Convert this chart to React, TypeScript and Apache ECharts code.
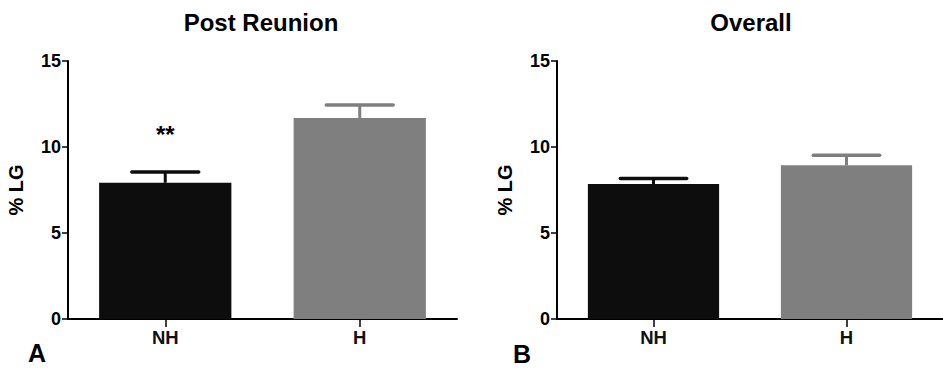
import React, { useEffect, useRef } from "react";
import * as echarts from "echarts";

const categories = ["NH", "H"];
const panelTitles = ["Post Reunion", "Overall"];
const panelLetters = ["A", "B"];
const yAxisName = "% LG";
const yTicks = { min: 0, max: 15, interval: 5 };

// Post Reunion panel
const postMeans = [7.92, 11.69];
const postUpper = [8.55, 12.44];
const postSig = ["**", ""];

// Overall panel
const overallMeans = [7.85, 8.94];
const overallUpper = [8.17, 9.52];
const overallSig = ["", ""];

const barColors = ["#0d0d0d", "#7f7f7f"];
const FONT = 'Arial, "Liberation Sans", Helvetica, sans-serif';

export default function App() {
  const ref = useRef<HTMLDivElement>(null);

  useEffect(() => {
    if (!ref.current) return;
    const chart = echarts.init(ref.current, null, { renderer: "svg" });

    const grids = [
      { left: 68, top: 61, width: 389, height: 258 },
      { left: 557, top: 61, width: 389, height: 258 },
    ];

    const xAxes = grids.map((_, i) => ({
      type: "category",
      gridIndex: i,
      data: categories,
      boundaryGap: true,
      axisLine: { show: true, lineStyle: { color: "#000", width: 2 } },
      axisTick: { show: true, alignWithLabel: true, length: 8, lineStyle: { color: "#000", width: 1.5 } },
      axisLabel: { color: "#111", fontSize: 18.5, fontWeight: "bold", fontFamily: FONT, margin: 9 },
      splitLine: { show: false },
    }));

    const yAxes = grids.map((_, i) => ({
      type: "value",
      gridIndex: i,
      min: yTicks.min,
      max: yTicks.max,
      interval: yTicks.interval,
      name: yAxisName,
      nameLocation: "middle",
      nameRotate: 90,
      nameGap: 42,
      nameTextStyle: { color: "#000", fontSize: 20, fontWeight: "bold", fontFamily: FONT },
      axisLine: { show: true, lineStyle: { color: "#000", width: 2 } },
      axisTick: { show: true, length: 6, lineStyle: { color: "#000", width: 1.5 } },
      axisLabel: { color: "#000", fontSize: 18, fontWeight: "bold", fontFamily: FONT, margin: 7 },
      splitLine: { show: false },
    }));

    const makeBars = (means: number[], i: number) => ({
      type: "bar",
      xAxisIndex: i,
      yAxisIndex: i,
      barWidth: "68%",
      z: 3,
      data: means.map((v, k) => ({ value: v, itemStyle: { color: barColors[k] } })),
    });

    const makeErr = (means: number[], upper: number[], sig: string[], i: number) => ({
      type: "custom",
      xAxisIndex: i,
      yAxisIndex: i,
      z: 2,
      data: means.map((m, k) => [k, m, upper[k]]),
      renderItem: (params: any, api: any) => {
        const k = api.value(0);
        const base = api.coord([k, api.value(1)]);
        const top = api.coord([k, api.value(2)]);
        const half = api.size([1, 0])[0] * 0.172;
        const color = barColors[params.dataIndex];
        const children: any[] = [
          {
            type: "line",
            shape: { x1: top[0], y1: base[1], x2: top[0], y2: top[1] },
            style: { stroke: color, lineWidth: 3 },
          },
          {
            type: "line",
            shape: { x1: top[0] - half, y1: top[1], x2: top[0] + half, y2: top[1] },
            style: { stroke: color, lineWidth: 3.5, lineCap: "round" },
          },
        ];
        const s = sig[params.dataIndex];
        if (s) {
          children.push({
            type: "text",
            style: {
              text: s,
              x: top[0],
              y: top[1] - 37,
              align: "center",
              verticalAlign: "middle",
              fontSize: 24,
              fontWeight: "bold",
              fontFamily: FONT,
              fill: "#000",
            },
          });
        }
        return { type: "group", children };
      },
    });

    const titleX = [261, 751];
    const letterPos = [
      [37, 353],
      [522, 354],
    ];

    const graphic: any[] = [];
    panelTitles.forEach((t, i) => {
      graphic.push({
        type: "text",
        x: titleX[i],
        y: 22,
        style: {
          text: t,
          align: "center",
          verticalAlign: "middle",
          fontSize: 24,
          fontWeight: "bold",
          fontFamily: FONT,
          fill: "#000",
        },
      });
    });
    panelLetters.forEach((t, i) => {
      graphic.push({
        type: "text",
        x: letterPos[i][0],
        y: letterPos[i][1],
        style: {
          text: t,
          align: "center",
          verticalAlign: "middle",
          fontSize: 25,
          fontWeight: "bold",
          fontFamily: FONT,
          fill: "#000",
        },
      });
    });

    chart.setOption({
      animation: false,
      backgroundColor: "#fff",
      grid: grids,
      xAxis: xAxes,
      yAxis: yAxes,
      graphic,
      series: [
        makeErr(postMeans, postUpper, postSig, 0),
        makeBars(postMeans, 0),
        makeErr(overallMeans, overallUpper, overallSig, 1),
        makeBars(overallMeans, 1),
      ],
    });

    return () => chart.dispose();
  }, []);

  return (
    <div
      ref={ref}
      style={{ position: "fixed", left: 0, top: 0, width: 943, height: 368, background: "#fff" }}
    />
  );
}
